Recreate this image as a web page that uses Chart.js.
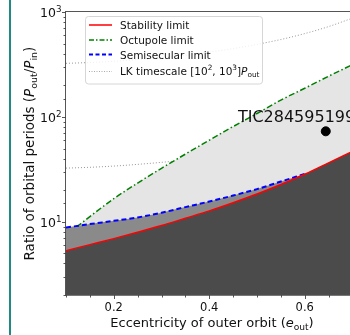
<!DOCTYPE html>
<html><head><meta charset="utf-8">
<script src="https://cdn.jsdelivr.net/npm/chart.js@4.4.1/dist/chart.umd.min.js"></script>
<style>
html,body{margin:0;padding:0;background:#fff;overflow:hidden;width:350px;height:335px}
#wrap{position:relative;width:360px;height:335px}
#frame{position:absolute;left:9px;top:0;width:2px;height:335px;background:#1f8a84}
canvas{position:absolute;left:0;top:0}
</style></head><body>
<div id="wrap"><canvas id="c" width="360" height="335"></canvas><div id="frame"></div></div>
<script>
// ---- data ----
const eccGrid     = [0.10,0.15,0.20,0.25,0.30,0.35,0.40,0.45,0.50,0.55,0.60,0.65,0.70];
const stability   = [5.3,6.05,6.9,7.95,9.2,10.8,12.7,15.2,18.4,22.7,28.4,36.5,47];
const semisecEcc  = [0.10,0.15,0.20,0.25,0.30,0.35,0.40,0.45,0.50,0.55,0.60];
const semisecular = [8.8,9.5,10.2,11.0,12.2,13.8,15.6,17.8,20.5,24.2,28.6];
const octEcc      = [0.122,0.15,0.20,0.25,0.30,0.35,0.40,0.45,0.50,0.55,0.60,0.65,0.70];
const octupole    = [8.9,11.2,16.6,23.4,32.4,44.2,60,81,108,145,188,245,316];
const lkUpper     = [325,331,340,353,369,389,416,449,493,549,625,729,878];
const lkLower     = [32.5,33.1,34.0,35.3,36.9,38.9,41.6,44.9,49.3,54.9,62.5,72.9,87.8];
const ticEcc      = [0.644];
const ticRatio    = [73];
const ticName     = "TIC284595199";
const xTickLabels = [0.2,0.4,0.6];
const yTickExps   = [1,2,3];
const seriesNames = ["Stability limit","Octupole limit","Semisecular limit"];

const pts = (xs, ys) => xs.map((x,i)=>({x, y: ys[i]}));
const FONT = '"DejaVu Sans"';

function segFont(s,size){
  const sz = (s.sub||s.sup) ? size*0.7 : size;
  return (s.i?'italic ':'') + sz + 'px ' + FONT;
}
function richWidth(ctx,segs,size){
  let w=0; for(const s of segs){ctx.font=segFont(s,size); w+=ctx.measureText(s.t).width;} return w;
}
function drawRich(ctx,segs,x,y,size,align){
  const w = richWidth(ctx,segs,size);
  let cx = align==='center' ? x-w/2 : (align==='right' ? x-w : x);
  ctx.textAlign='left'; ctx.textBaseline='alphabetic';
  for(const s of segs){
    ctx.font=segFont(s,size);
    const dy = s.sub ? size*0.22 : (s.sup ? -size*0.42 : 0);
    ctx.fillText(s.t,cx,y+dy);
    cx += ctx.measureText(s.t).width;
  }
}

const decor = {
  id:'decor',
  afterDraw(chart){
    const ctx = chart.ctx, a = chart.chartArea;
    const xs = chart.scales.x, ys = chart.scales.y;
    ctx.save();
    // annotation
    ctx.fillStyle='#111';
    ctx.font='16px '+FONT; ctx.textAlign='left'; ctx.textBaseline='alphabetic';
    ctx.fillText(ticName, xs.getPixelForValue(0.46), ys.getPixelForValue(90));
    // spines
    ctx.strokeStyle='#555'; ctx.lineWidth=1;
    ctx.strokeRect(Math.round(a.left)-0.5, Math.round(a.top)-0.5, a.right-a.left+1, a.bottom-a.top+1);
    // ticks
    ctx.strokeStyle='#444'; ctx.lineWidth=0.9;
    ctx.beginPath();
    for(const t of xs.ticks){
      const px = Math.round(xs.getPixelForValue(t.value))+0.5;
      const major = xTickLabels.some(v=>Math.abs(v-t.value)<1e-6);
      ctx.moveTo(px, a.bottom); ctx.lineTo(px, a.bottom+(major?4:2.5));
    }
    for(const t of ys.ticks){
      const lg = Math.log10(t.value);
      const major = Math.abs(lg-Math.round(lg))<1e-9;
      const py = Math.round(ys.getPixelForValue(t.value))+0.5;
      ctx.moveTo(a.left, py); ctx.lineTo(a.left-(major?4:2.5), py);
    }
    ctx.stroke();
    // y tick labels (10^n)
    ctx.fillStyle='#111';
    for(const t of ys.ticks){
      const lg = Math.log10(t.value), r = Math.round(lg);
      if(Math.abs(lg-r)<1e-9 && yTickExps.includes(r)){
        const py = ys.getPixelForValue(t.value);
        drawRich(ctx,[{t:'10'},{t:String(r),sup:1}], a.left-4.5, py+5, 12.5, 'right');
      }
    }
    // axis titles
    drawRich(ctx,[{t:'Eccentricity of outer orbit ('},{t:'e',i:1},{t:'out',sub:1},{t:')'}],
      212, 327, 13, 'center');
    ctx.save();
    ctx.translate(34, (a.top+a.bottom)/2);
    ctx.rotate(-Math.PI/2);
    drawRich(ctx,[{t:'Ratio of orbital periods ('},{t:'P',i:1},{t:'out',sub:1},{t:'/'},{t:'P',i:1},{t:'in',sub:1},{t:')'}],
      0, 0, 13.5, 'center');
    ctx.restore();
    // legend
    const L={x:85.5,y:16.5,w:177,h:67.5};
    ctx.fillStyle='rgba(255,255,255,0.85)';
    ctx.strokeStyle='#d6d6d6'; ctx.lineWidth=1;
    ctx.beginPath(); ctx.roundRect(L.x,L.y,L.w,L.h,3); ctx.fill(); ctx.stroke();
    const rows=[25,40,54.5,71.5];
    const styles=[
      {c:'#ff0000',w:1.5,d:[]},
      {c:'#008000',w:1.5,d:[5,2,1.5,2]},
      {c:'#0000ff',w:2,d:[4,2.5]},
      {c:'#aaaaaa',w:1,d:[1,1.5]}
    ];
    for(let i=0;i<4;i++){
      const s=styles[i];
      ctx.strokeStyle=s.c; ctx.lineWidth=s.w; ctx.setLineDash(s.d);
      ctx.beginPath(); ctx.moveTo(89,rows[i]); ctx.lineTo(112,rows[i]); ctx.stroke();
    }
    ctx.setLineDash([]);
    ctx.fillStyle='#111';
    for(let i=0;i<3;i++) drawRich(ctx,[{t:seriesNames[i]}],120,rows[i]+4,10.5,'left');
    drawRich(ctx,[{t:'LK timescale [10'},{t:'2',sup:1},{t:', 10'},{t:'3',sup:1},{t:']'},{t:'P',i:1},{t:'out',sub:1}],120,rows[3]+3,10.5,'left');
    ctx.restore();
  }
};

const lineBase = {pointRadius:0, pointHoverRadius:0, tension:0.3, cubicInterpolationMode:'monotone'};

new Chart(document.getElementById('c'),{
  type:'line',
  data:{datasets:[
    {...lineBase, label:'LK upper', data:pts(eccGrid,lkUpper), borderColor:'rgba(140,140,140,0.9)', borderWidth:1, borderDash:[1,2], fill:false, order:10},
    {...lineBase, label:'LK lower', data:pts(eccGrid,lkLower), borderColor:'rgba(140,140,140,0.9)', borderWidth:1, borderDash:[1,2], fill:false, order:9},
    {...lineBase, label:seriesNames[1], data:pts(octEcc,octupole), borderColor:'#008000', borderWidth:1.5, borderDash:[6,2.5,1.5,2.5], fill:'start', backgroundColor:'#e5e5e5', order:5},
    {...lineBase, label:seriesNames[2], data:pts(semisecEcc,semisecular), borderColor:'#0000ff', borderWidth:2, borderDash:[5,3], fill:'start', backgroundColor:'#8a8a8a', order:4},
    {...lineBase, label:seriesNames[0], data:pts(eccGrid,stability), borderColor:'#ff0000', borderWidth:1.5, fill:'start', backgroundColor:'#4b4b4b', order:3},
    {type:'scatter', label:ticName, data:pts(ticEcc,ticRatio), pointRadius:4.5, pointBackgroundColor:'#000', pointBorderColor:'#000', showLine:false, order:1}
  ]},
  options:{
    responsive:false, animation:false, events:[],
    layout:{padding:{left:0,top:11,right:7.5,bottom:0}},
    plugins:{legend:{display:false}, tooltip:{enabled:false}, filler:{drawTime:'beforeDatasetDraw'}},
    scales:{
      x:{type:'linear', min:0.1, max:0.7,
        grid:{display:false, drawTicks:false}, border:{display:false},
        afterFit(s){s.height=40;},
        ticks:{stepSize:0.05, autoSkip:false, maxRotation:0, minRotation:0, padding:6, color:'#111',
          font:{family:'DejaVu Sans', size:11.5},
          callback(v){const m=xTickLabels.find(t=>Math.abs(t-v)<1e-6); return m!==undefined? m.toFixed(1):'';}}
      },
      y:{type:'logarithmic', min:2, max:1000,
        grid:{display:false, drawTicks:false}, border:{display:false},
        afterFit(s){s.width=66;},
        ticks:{autoSkip:false, padding:5, color:'#111', font:{family:'DejaVu Sans', size:12},
          callback(){return '';}}
      }
    }
  },
  plugins:[decor]
});
</script>
</body></html>
